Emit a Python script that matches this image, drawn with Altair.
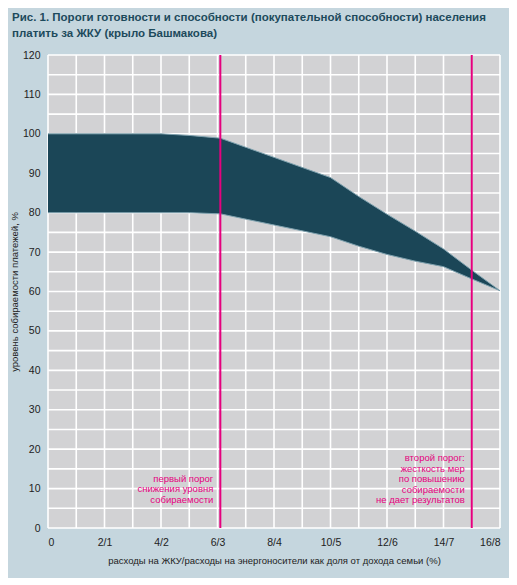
import altair as alt
import pandas as pd

# share of family income (%), upper / lower collection thresholds (%)
share = [0, 4, 5, 6.1, 10, 11, 12, 13, 14, 15, 16]
upper = [100, 100, 99.6, 98.9, 88.9, 84.1, 79.6, 75.3, 70.8, 65.4, 60.2]
lower = [80, 80, 80, 79.7, 73.9, 71.5, 69.4, 67.7, 66.3, 63.2, 60.2]

thresholds = [6.1, 15.0]
note_text = [
    "первый порог\nснижения уровня\nсобираемости",
    "второй порог:\nжесткость мер\nпо повышению\nсобираемости\nне дает результатов",
]
note_top = [13.7, 19.0]

x_grid = list(range(17))
y_grid = list(range(0, 121, 5))
x_ticks = [0, 2, 4, 6, 8, 10, 12, 14, 16]
x_tick_labels = ["0", "2/1", "4/2", "6/3", "8/4", "10/5", "12/6", "14/7", "16/8"]
y_ticks = [0, 10, 20, 30, 40, 50, 60, 70, 80, 90, 100, 110, 120]

title_lines = [
    "Рис. 1. Пороги готовности и способности (покупательной способности) населения",
    "платить за ЖКУ (крыло Башмакова)",
]

FONT = "Liberation Sans, Arial, sans-serif"
PINK = "#e5007e"
TEAL = "#1b4657"
EDGE = "#7ea1ae"
INK = "#222222"
PANEL = "#d2d2d4"

band = pd.DataFrame({"share": share, "upper": upper, "lower": lower})
rules = pd.DataFrame({"share": thresholds})
notes = pd.DataFrame({"share": thresholds, "top": note_top, "text": note_text})
vgrid = pd.DataFrame({"share": x_grid})
hgrid = pd.DataFrame({"upper": y_grid})
panel = pd.DataFrame({"share": [0], "share2": [16], "upper": [0], "upper2": [120]})

x_label_expr = "{" + ",".join(
    f"'{v}':'{s}'" for v, s in zip(x_ticks, x_tick_labels)
) + "}[datum.value]"

x_scale = alt.Scale(domain=[0, 16], nice=False, zero=False)
y_scale = alt.Scale(domain=[0, 120], nice=False)

x_axis = alt.Axis(
    values=x_ticks, labelExpr=x_label_expr, labelOverlap=False,
    grid=False, domain=False, ticks=False,
    labelPadding=9, labelFont=FONT, labelFontSize=10.5, labelColor=INK,
    title="расходы на ЖКУ/расходы на энергоносители как доля от дохода семьи (%)",
    titleFont=FONT, titleFontSize=9.5, titleFontWeight="normal",
    titleColor=INK, titlePadding=8,
)
y_axis = alt.Axis(
    values=y_ticks, labelOverlap=False,
    grid=False, domain=False, ticks=False,
    labelPadding=8, labelFont=FONT, labelFontSize=10.5, labelColor=INK,
    title="уровень собираемости платежей, %",
    titleFont=FONT, titleFontSize=9.5, titleFontWeight="normal",
    titleColor=INK, titlePadding=3,
)


def X(field):
    return alt.X(field, type="quantitative", scale=x_scale, axis=x_axis)


def Y(field):
    return alt.Y(field, type="quantitative", scale=y_scale, axis=y_axis)


back = alt.Chart(panel).mark_rect(color=PANEL, opacity=1).encode(
    x=X("share"), x2="share2:Q", y=Y("upper"), y2="upper2:Q",
)
vlines = alt.Chart(vgrid).mark_rule(color="#ffffff", strokeWidth=1.6, opacity=1).encode(
    x=X("share"), y=alt.value(0), y2=alt.value(473),
)
hlines = alt.Chart(hgrid).mark_rule(color="#ffffff", strokeWidth=1.6, opacity=1).encode(
    y=Y("upper"), x=alt.value(0), x2=alt.value(452),
)
area = alt.Chart(band).mark_area(color=TEAL, opacity=1).encode(
    x=X("share"), y=Y("upper"), y2="lower:Q",
)
top_edge = alt.Chart(band).mark_line(color=EDGE, strokeWidth=1).encode(
    x=X("share"), y=Y("upper")
)
bottom_edge = alt.Chart(band).mark_line(color=EDGE, strokeWidth=1).encode(
    x=X("share"), y=Y("lower")
)
pink = alt.Chart(rules).mark_rule(color=PINK, strokeWidth=2).encode(
    x=X("share"), y=alt.value(0), y2=alt.value(473)
)
labels = alt.Chart(notes).mark_text(
    align="right", baseline="top", dx=-7, lineBreak="\n", lineHeight=10.5,
    font=FONT, fontSize=9.5, color=PINK,
).encode(x=X("share"), y=Y("top"), text="text:N")

chart = (back + vlines + hlines + area + top_edge + bottom_edge + pink + labels).properties(
    width=452, height=473,
    autosize=alt.AutoSizeParams(type="none"),
    padding={"left": 40, "top": 47, "right": 9, "bottom": 50},
    background="#c5d6de",
    title=alt.TitleParams(
        text=title_lines, anchor="start", frame="group", dx=-36, offset=11,
        font=FONT, fontSize=11.5, fontWeight="bold", color="#1d4a5c",
        lineHeight=16,
    ),
).configure_view(stroke=None)

chart.save("out.html", embed_options={"renderer": "svg", "actions": False})
